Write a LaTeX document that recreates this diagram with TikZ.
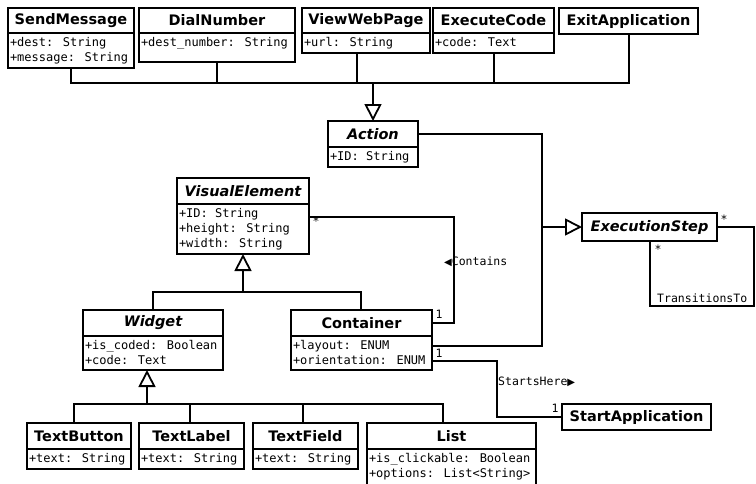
\documentclass[tikz,border=0pt]{standalone}
\usepackage{fontspec}
\setmainfont{DejaVu Sans}
\newfontfamily\monof{DejaVu Sans Mono}
\usetikzlibrary{arrows.meta}

\tikzset{
  titlebox/.style={draw, line width=2pt, inner sep=0pt, outer sep=0pt, anchor=north west,
    font=\fontsize{14.5}{16}\selectfont\bfseries, align=center},
  attrbox/.style={draw, line width=2pt, inner sep=0pt, outer sep=0pt, anchor=north west},
  conn/.style={line width=1.8pt},
  gen/.style={line width=2.8pt, -{Triangle[open, length=17pt, width=17pt, line width=1.8pt]}},
  lbl/.style={font=\monof\fontsize{11.5}{14}\selectfont, inner sep=0pt, anchor=west},
}

\newcommand\umlclass[8]{%
  \pgfmathsetmacro\uw{#4-#2}%
  \pgfmathsetmacro\uh{#5-#3}%
  \pgfmathsetmacro\ua{#6-#5}%
  \node[titlebox, minimum width=\uw pt, minimum height=\uh pt] (#1) at (#2,#3) {#7};
  \node[attrbox] (#1a) at (#2,#5) {\parbox[c][\ua pt][t]{\uw pt}{\raggedright\leftskip=2pt\relax\monof\fontsize{12}{15}\selectfont\rule{0pt}{13pt}#8}};
}
\newcommand\umlsimple[6]{%
  \pgfmathsetmacro\uw{#4-#2}%
  \pgfmathsetmacro\uh{#5-#3}%
  \node[titlebox, minimum width=\uw pt, minimum height=\uh pt] (#1) at (#2,#3) {#6};
}

\begin{document}
\begin{tikzpicture}[x=1pt, y=-1pt]
\useasboundingbox (0,0) rectangle (756,483);
\clip (0,0) rectangle (756,483);

% top row
\umlclass{sm}{8}{8}{134}{33}{68}{SendMessage}{+dest: String\\+message: String}
\umlclass{dn}{139}{8}{295}{33}{62}{DialNumber}{+dest\_number: String}
\umlclass{vw}{302}{8}{430}{33}{53}{ViewWebPage}{+url: String}
\umlclass{ec}{433}{8}{554}{33}{53}{ExecuteCode}{+code: Text}
\umlsimple{ex}{559}{8}{698}{34}{ExitApplication}

\umlclass{act}{328}{121}{418}{147}{167}{\itshape Action}{+ID: String}
\umlclass{ve}{177}{178}{309}{204}{254}{\itshape VisualElement}{+ID: String\\+height: String\\+width: String}
\umlsimple{es}{582}{213}{717}{241}{\itshape ExecutionStep}

\umlclass{wd}{83}{310}{223}{336}{370}{\itshape Widget}{+is\_coded: Boolean\\+code: Text}
\umlclass{ct}{291}{310}{432}{336}{370}{Container}{+layout: ENUM\\+orientation: ENUM}

\umlclass{tb}{27}{423}{131}{449}{469}{TextButton}{+text: String}
\umlclass{tl}{139}{423}{244}{449}{469}{TextLabel}{+text: String}
\umlclass{tf}{253}{423}{358}{449}{469}{TextField}{+text: String}
\umlclass{ls}{367}{423}{536}{449}{492}{List}{+is\_clickable: Boolean\\+options: List<String>}
\umlsimple{sa}{562}{404}{711}{430}{StartApplication}

% junctions
\coordinate (j0) at (373,83);
\coordinate (k1) at (542,227);
\coordinate (j2) at (147,404);
\coordinate (j3) at (243,292);

% Action generalization
\draw[conn] (sma.south) |- (j0) -| ([xshift=0.5pt]ex.south);
\draw[conn] (dna.south) -- (dna.south |- j0);
\draw[conn] ([xshift=-9pt]vwa.south) -- ([xshift=-9pt]vwa.south |- j0);
\draw[conn] ([xshift=0.5pt]eca.south) -- ([xshift=0.5pt]eca.south |- j0);
\draw[gen] (j0) -- (act.north);

% ExecutionStep generalization
\draw[conn] (act.east) -| (k1);
\draw[conn] (k1) |- ([yshift=7pt]cta.east);
\draw[gen] (k1) -- (es.west);

% TransitionsTo
\draw[conn] (es.east) -- ++(37,0) |- ([xshift=0.5pt,yshift=-65pt]es.south) -- ([xshift=0.5pt]es.south);
\node[lbl, anchor=center] (m1) at (724,219) {*};
\node[lbl, anchor=center] (m2) at (658,249) {*};
\node[lbl] (ltr) at (657,298) {TransitionsTo};

% Contains
\draw[conn] ([yshift=12pt]vea.east) -| ([xshift=22pt]ct.east) -- (ct.east);
\node[lbl, anchor=center] (m3) at (316,221) {*};
\node[lbl, anchor=center] (m4) at (439,314) {1};
\node[lbl] (lco) at (444,262) {{\normalfont\fontsize{10}{10}\selectfont ◀}Contains};

% VisualElement generalization
\draw[conn] (wd.north) |- (j3) -| ([xshift=-0.5pt]ct.north);
\draw[gen] (j3) -- (vea.south);

% Widget generalization
\draw[conn] ([xshift=-5pt]tb.north) |- (j2) -| ([xshift=-8.5pt]ls.north);
\draw[conn] ([xshift=-1.5pt]tl.north) -- ([xshift=-1.5pt]tl.north |- j2);
\draw[conn] ([xshift=-2.5pt]tf.north) -- ([xshift=-2.5pt]tf.north |- j2);
\draw[gen] (j2) -- (j2 |- wda.south);

% StartsHere
\draw[conn] ([yshift=-8pt]cta.east) -| ([xshift=-65pt]sa.west) -- (sa.west);
\node[lbl, anchor=center] (m5) at (439,353) {1};
\node[lbl, anchor=center] (m6) at (555,408) {1};
\node[lbl] (lsh) at (498,382) {StartsHere{\normalfont\fontsize{10}{10}\selectfont ▶}};
\end{tikzpicture}
\end{document}
